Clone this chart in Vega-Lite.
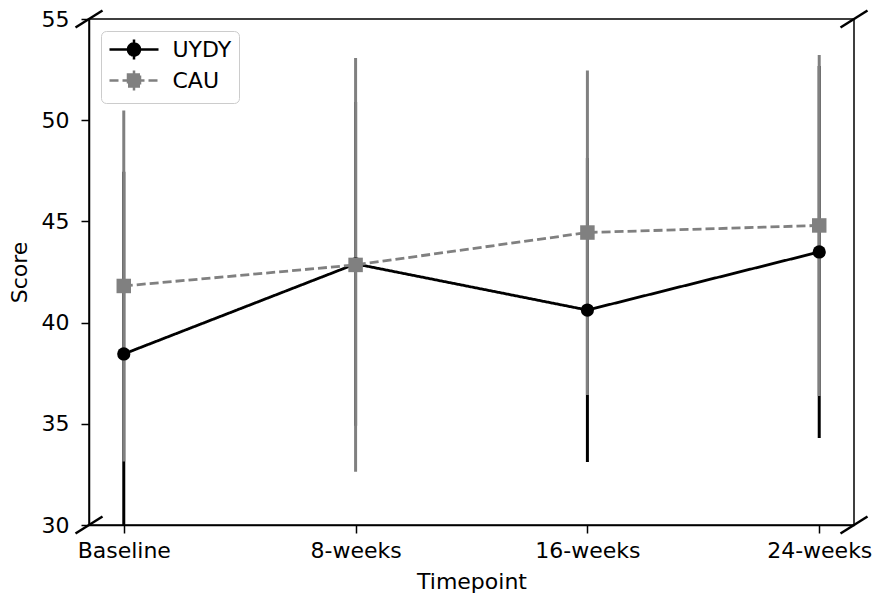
{
  "$schema": "https://vega.github.io/schema/vega-lite/v6.json",
  "width": 765,
  "height": 506,
  "autosize": {"type": "none"},
  "padding": {"left": 89, "top": 19, "right": 23, "bottom": 71},
  "background": "white",
  "config": {
    "font": "DejaVu Sans",
    "view": {"stroke": "black", "strokeWidth": 1.5},
    "axis": {
      "grid": false,
      "domainColor": "black",
      "domainWidth": 1.5,
      "tickColor": "black",
      "tickWidth": 1.5,
      "tickSize": 8,
      "labelFont": "DejaVu Sans",
      "labelFontSize": 22,
      "labelColor": "black",
      "titleFont": "DejaVu Sans",
      "titleFontSize": 22,
      "titleFontWeight": "normal",
      "titleColor": "black"
    }
  },
  "datasets": {
    "stats": [
      {"group": "UYDY", "timepoint": "Baseline", "mean": 38.45, "lower": 29.45, "upper": 47.45},
      {"group": "UYDY", "timepoint": "8-weeks", "mean": 42.9, "lower": 34.9, "upper": 50.9},
      {"group": "UYDY", "timepoint": "16-weeks", "mean": 40.62, "lower": 33.11, "upper": 48.13},
      {"group": "UYDY", "timepoint": "24-weeks", "mean": 43.49, "lower": 34.3, "upper": 52.68},
      {"group": "CAU", "timepoint": "Baseline", "mean": 41.81, "lower": 33.14, "upper": 50.48},
      {"group": "CAU", "timepoint": "8-weeks", "mean": 42.85, "lower": 32.63, "upper": 53.07},
      {"group": "CAU", "timepoint": "16-weeks", "mean": 44.45, "lower": 36.42, "upper": 52.45},
      {"group": "CAU", "timepoint": "24-weeks", "mean": 44.8, "lower": 36.37, "upper": 53.22}
    ],
    "corners": [
      {"cx": 0, "cy": 30},
      {"cx": 0, "cy": 55},
      {"cx": 1, "cy": 30},
      {"cx": 1, "cy": 55}
    ]
  },
  "layer": [
    {
      "data": {"name": "stats"},
      "encoding": {
        "x": {
          "field": "timepoint",
          "type": "nominal",
          "sort": ["Baseline", "8-weeks", "16-weeks", "24-weeks"],
          "scale": {"type": "point", "padding": 0.15},
          "axis": {"title": "Timepoint", "labelAngle": 0, "labelPadding": 7, "titlePadding": 10}
        }
      },
      "layer": [
        {
          "mark": {"type": "point", "filled": true, "opacity": 0, "size": 400, "strokeWidth": 2.5},
          "encoding": {
            "y": {
              "field": "mean",
              "type": "quantitative",
              "scale": {"domain": [30, 55], "nice": false, "zero": false},
              "axis": {"title": "Score", "values": [30, 35, 40, 45, 50, 55], "labelPadding": 12, "titlePadding": 10}
            },
            "color": {
              "field": "group",
              "type": "nominal",
              "scale": {"domain": ["UYDY", "CAU"], "range": ["black", "gray"]},
              "legend": {
                "title": null,
                "orient": "top-left",
                "offset": 12,
                "padding": 7,
                "rowPadding": 0,
                "symbolOffset": 14.5,
                "labelOffset": 27,
                "labelFontSize": 22,
                "labelFont": "DejaVu Sans",
                "labelColor": "black",
                "symbolSize": 400,
                "symbolStrokeWidth": 2.5,
                "symbolOpacity": 1,
                "symbolStrokeColor": "black",
                "fillColor": "white",
                "strokeColor": "#cccccc",
                "cornerRadius": 5
              }
            },
            "stroke": {
              "field": "group",
              "type": "nominal",
              "scale": {"domain": ["UYDY", "CAU"], "range": ["black", "gray"]},
              "legend": {"title": null}
            },
            "shape": {
              "field": "group",
              "type": "nominal",
              "scale": {
                "domain": ["UYDY", "CAU"],
                "range": [
                  "M-2.45,0L2.45,0M0,-1L0,1M-0.6,0A0.6,0.6,0,1,0,0.6,0A0.6,0.6,0,1,0,-0.6,0M-0.4,0A0.4,0.4,0,1,0,0.4,0A0.4,0.4,0,1,0,-0.4,0M-0.2,0A0.2,0.2,0,1,0,0.2,0A0.2,0.2,0,1,0,-0.2,0",
                  "M-2.45,0L2.45,0M0,-1L0,1M-0.6,-0.6L0.6,-0.6L0.6,0.6L-0.6,0.6Z M-0.6,-0.6L0.6,-0.6M0.6,-0.6L-0.6,-0.6M-0.6,-0.4L0.6,-0.4M0.6,-0.4L-0.6,-0.4M-0.6,-0.2L0.6,-0.2M0.6,-0.2L-0.6,-0.2M-0.6,0L0.6,0M0.6,0L-0.6,0M-0.6,0.2L0.6,0.2M0.6,0.2L-0.6,0.2M-0.6,0.4L0.6,0.4M0.6,0.4L-0.6,0.4M-0.6,0.6L0.6,0.6M0.6,0.6L-0.6,0.6"
                ]
              },
              "legend": {"title": null}
            },
            "strokeDash": {
              "field": "group",
              "type": "nominal",
              "scale": {"domain": ["UYDY", "CAU"], "range": [[1, 0], [9, 4]]},
              "legend": {"title": null}
            }
          }
        },
        {
          "mark": {"type": "rule", "strokeWidth": 3, "clip": true},
          "encoding": {
            "y": {"field": "lower", "type": "quantitative", "title": "Score"},
            "y2": {"field": "upper"},
            "color": {"field": "group", "type": "nominal"},
            "order": {"field": "group", "sort": "descending"}
          }
        },
        {
          "mark": {"type": "line", "strokeWidth": 2.8},
          "encoding": {
            "y": {"field": "mean", "type": "quantitative", "title": "Score"},
            "color": {"field": "group", "type": "nominal"},
            "strokeDash": {"field": "group", "type": "nominal"}
          }
        },
        {
          "transform": [{"filter": "datum.group === 'UYDY'"}],
          "mark": {"type": "point", "shape": "circle", "filled": true, "opacity": 1, "strokeWidth": 0, "size": 175, "color": "black"},
          "encoding": {
            "y": {"field": "mean", "type": "quantitative", "title": "Score"}
          }
        },
        {
          "transform": [{"filter": "datum.group === 'CAU'"}],
          "mark": {"type": "point", "shape": "square", "filled": true, "opacity": 1, "strokeWidth": 0, "size": 210, "color": "gray"},
          "encoding": {
            "y": {"field": "mean", "type": "quantitative", "title": "Score"}
          }
        }
      ]
    },
    {
      "data": {"name": "corners"},
      "mark": {"type": "point", "shape": "M-1,0.63L1,-0.63", "size": 729, "filled": false, "stroke": "black", "strokeWidth": 2.5, "opacity": 1},
      "encoding": {
        "x": {"field": "cx", "type": "quantitative", "scale": {"domain": [0, 1], "nice": false}, "axis": null},
        "y": {"field": "cy", "type": "quantitative", "title": "Score"}
      }
    }
  ],
  "resolve": {"scale": {"x": "independent"}}
}
